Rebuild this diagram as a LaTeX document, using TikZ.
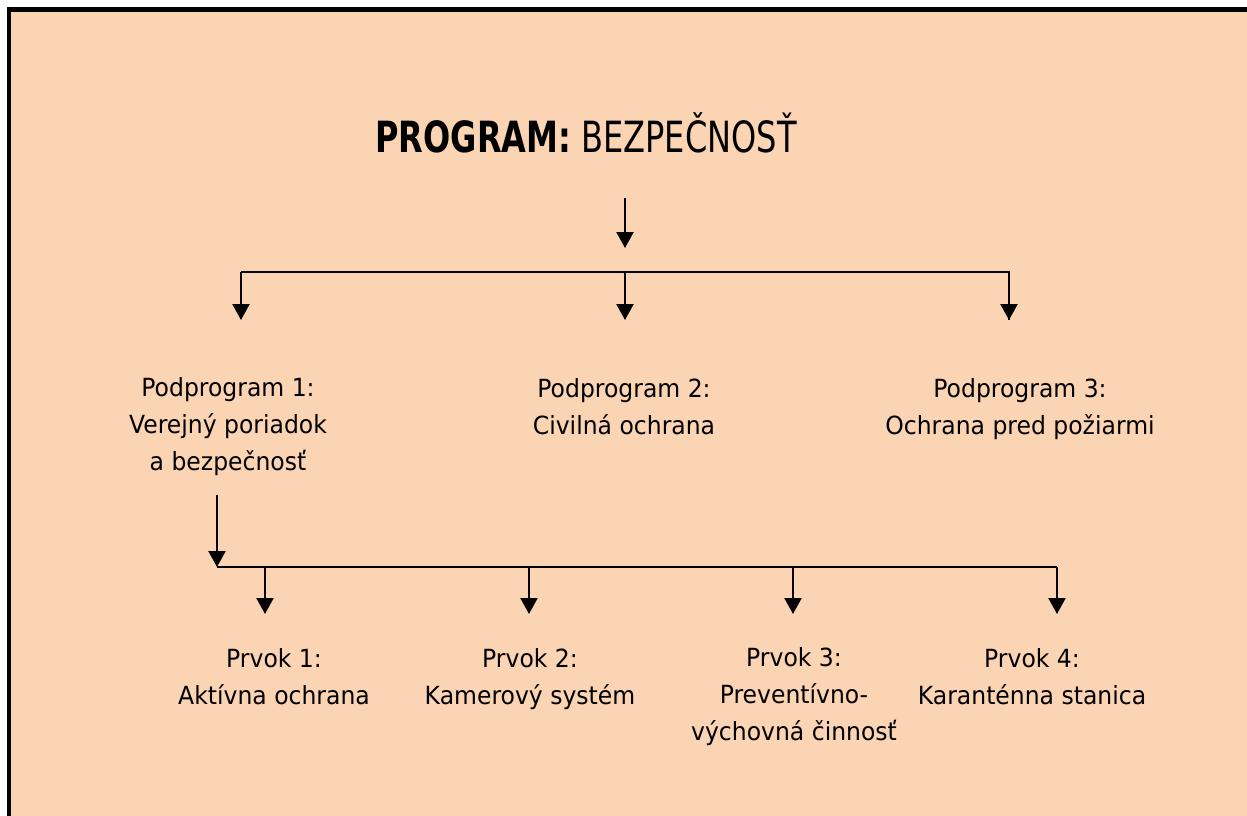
\documentclass[tikz,border=0pt]{standalone}
\usepackage{fontspec}
\setmainfont[FakeStretch=0.94]{DejaVu Sans}
\newfontfamily\titlefont[FakeStretch=0.745]{DejaVu Sans}
\usetikzlibrary{arrows.meta}
\definecolor{peach}{RGB}{251,212,180}
\tikzset{
  lbl/.style={align=center, inner sep=0pt, anchor=base, font=\fontsize{25}{37}\selectfont},
  conn/.style={line width=2.3pt},
  arr/.style={conn, -{Triangle[width=17pt,length=16pt]}}
}
\begin{document}
\begin{tikzpicture}[x=1pt,y=-1pt]
\useasboundingbox (0,0) rectangle (1247,816);
\fill[white] (0,0) rectangle (1247,816);
\fill[black] (6.5,7.5) rectangle (1247,816);
\fill[peach] (11,12) rectangle (1247,816);

\node[inner sep=0pt, anchor=base, font=\titlefont\fontsize{43}{50}\selectfont] (title) at (586,152) {\textbf{PROGRAM:} BEZPEČNOSŤ};

\node[lbl] (p1) at (228,470) {Podprogram 1:\\Verejný poriadok\\a bezpečnosť};
\node[lbl] (p2) at (624,434) {Podprogram 2:\\Civilná ochrana};
\node[lbl] (p3) at (1020,434) {Podprogram 3:\\Ochrana pred požiarmi};

\node[lbl] (e1) at (274,704) {Prvok 1:\\Aktívna ochrana};
\node[lbl] (e2) at (530,704) {Prvok 2:\\Kamerový systém};
\node[lbl] (e3) at (794,740) {Prvok 3:\\Preventívno-\\výchovná činnosť};
\node[lbl] (e4) at (1032,704) {Prvok 4:\\Karanténna stanica};

\coordinate (t0) at (625,198);
\coordinate (t1) at (625,248);
\coordinate (hL) at (241,272);
\coordinate (hM) at (625,272);
\coordinate (hR) at (1009,272);
\coordinate (d1) at (241,320);
\coordinate (d2) at (625,320);
\coordinate (d3) at (1009,320);

\draw[arr] (t0) -- (t1);
\draw[conn] (d1 |- hL) -- (hR) -- (d3);
\draw[arr] (hL) -- (d1);
\draw[arr] (hM) -- (d2);
\draw[arr] (hR) -- (d3);

\coordinate (s0) at (217,495);
\coordinate (s1) at (217,567);
\coordinate (sR) at (1057,567);
\coordinate (f1) at (265,567);
\coordinate (f2) at (529,567);
\coordinate (f3) at (793,567);
\coordinate (f4) at (1057,567);
\coordinate (g1) at (265,614);
\coordinate (g2) at (529,614);
\coordinate (g3) at (793,614);
\coordinate (g4) at (1057,614);

\draw[arr] (s0) -- (s1);
\draw[conn] (s1) -- (sR);
\draw[arr] (f1) -- (g1);
\draw[arr] (f2) -- (g2);
\draw[arr] (f3) -- (g3);
\draw[arr] (f4) -- (g4);
\end{tikzpicture}
\end{document}
